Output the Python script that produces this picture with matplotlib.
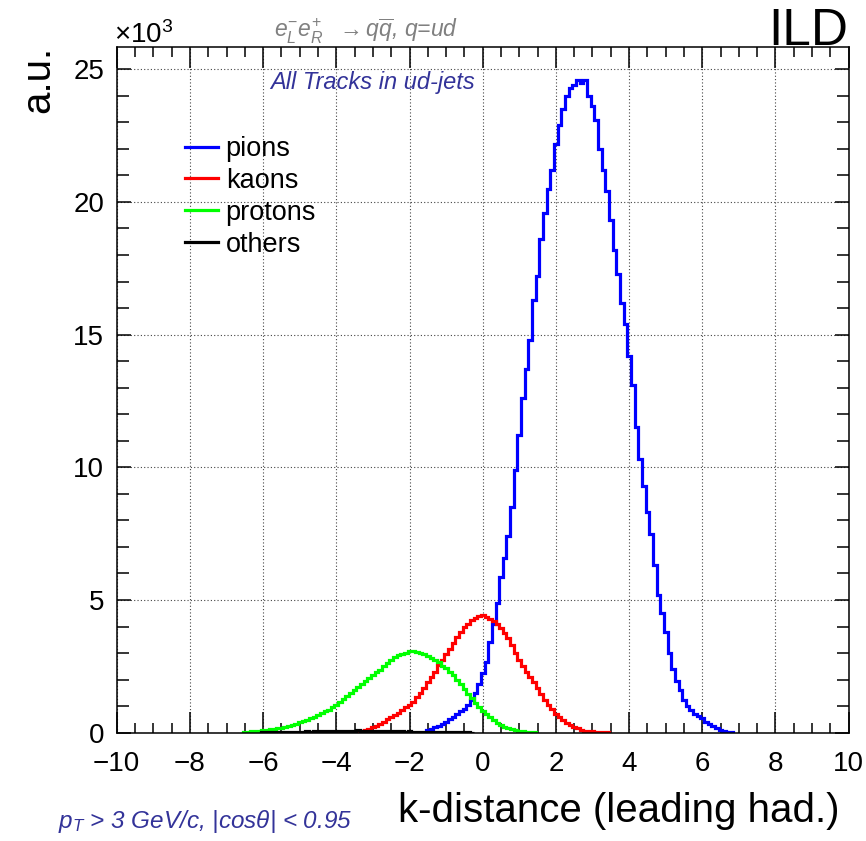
import numpy as np
import matplotlib
matplotlib.use("Agg")
import matplotlib.pyplot as plt
from matplotlib.ticker import MultipleLocator

plt.rcParams["font.family"] = ["Liberation Sans", "DejaVu Sans"]
plt.rcParams["mathtext.fontset"] = "custom"
plt.rcParams["mathtext.rm"] = "Liberation Sans"
plt.rcParams["mathtext.it"] = "Liberation Sans:italic"

# Bin width of the histograms (k-distance units)
bin_width = 0.1

# Counts per bin (x10^3); the first value belongs to the bin centred at *_start
pion_start = -1.5
pions = [0.10, 0.15, 0.20, 0.27, 0.33, 0.42, 0.52, 0.60, 0.70, 0.80,
         0.90, 1.05, 1.25, 1.50, 1.85, 2.25, 2.65, 3.40, 4.10, 4.90,
         5.85, 6.60, 7.40, 8.50, 9.90, 11.2, 12.6, 13.7, 14.8, 16.3,
         17.2, 18.6, 19.6, 20.5, 21.2, 22.2, 22.9, 23.5, 24.0, 24.3,
         24.4, 24.6, 24.5, 24.6, 24.0, 23.6, 23.1, 22.0, 21.2, 20.4,
         19.3, 18.2, 17.3, 16.2, 15.4, 14.2, 13.1, 11.5, 10.3, 9.30,
         8.30, 7.50, 6.30, 5.20, 4.50, 3.80, 3.00, 2.40, 1.95, 1.60,
         1.25, 1.00, 0.85, 0.72, 0.62, 0.55, 0.42, 0.32, 0.24, 0.16,
         0.10, 0.06, 0.03, 0.01]

kaon_start = -3.5
kaons = [0.02, 0.04, 0.07, 0.10, 0.14, 0.20, 0.27, 0.34, 0.42, 0.50,
         0.58, 0.67, 0.75, 0.85, 0.95, 1.05, 1.17, 1.33, 1.50, 1.70,
         1.90, 2.10, 2.30, 2.55, 2.75, 2.95, 3.15, 3.37, 3.60, 3.80,
         3.97, 4.10, 4.25, 4.33, 4.38, 4.42, 4.35, 4.28, 4.22, 4.10,
         3.95, 3.75, 3.55, 3.30, 3.00, 2.72, 2.50, 2.28, 2.08, 1.90,
         1.68, 1.45, 1.25, 1.05, 0.88, 0.72, 0.58, 0.46, 0.37, 0.29,
         0.22, 0.16, 0.11, 0.08, 0.06, 0.05, 0.03, 0.02, 0.01, 0.01]

proton_start = -6.5
protons = [0.02, 0.04, 0.05, 0.06, 0.08, 0.09, 0.10, 0.12, 0.14, 0.16,
           0.19, 0.22, 0.26, 0.30, 0.34, 0.39, 0.44, 0.49, 0.54, 0.60,
           0.66, 0.73, 0.80, 0.87, 0.95, 1.04, 1.14, 1.26, 1.38, 1.50,
           1.61, 1.72, 1.83, 1.94, 2.06, 2.17, 2.28, 2.38, 2.50, 2.62,
           2.72, 2.86, 2.93, 2.98, 3.02, 3.06, 3.08, 3.05, 3.01, 2.96,
           2.90, 2.83, 2.73, 2.65, 2.53, 2.42, 2.30, 2.17, 2.00, 1.82,
           1.65, 1.47, 1.30, 1.13, 0.97, 0.83, 0.70, 0.60, 0.48, 0.37,
           0.28, 0.21, 0.16, 0.12, 0.09, 0.07, 0.05, 0.04, 0.03, 0.02]

other_start = -6.0
others = [0.01, 0.01, 0.02, 0.01, 0.02, 0.02, 0.03, 0.02, 0.03, 0.04,
          0.03, 0.04, 0.05, 0.04, 0.05, 0.06, 0.05, 0.06, 0.07, 0.06,
          0.07, 0.08, 0.07, 0.08, 0.07, 0.08, 0.09, 0.08, 0.07, 0.08,
          0.07, 0.08, 0.07, 0.06, 0.07, 0.06, 0.05, 0.06, 0.05, 0.04,
          0.05, 0.04, 0.03, 0.04, 0.03, 0.02, 0.03, 0.02, 0.02, 0.01,
          0.02, 0.01, 0.01, 0.01, 0.01, 0.00, 0.01, 0.00]

series = [
    ("pions", pion_start, pions, "#0000ff"),
    ("kaons", kaon_start, kaons, "#ff0000"),
    ("protons", proton_start, protons, "#00ff00"),
    ("others", other_start, others, "#000000"),
]

x_ticks = [-10, -8, -6, -4, -2, 0, 2, 4, 6, 8, 10]
y_ticks = [0, 5, 10, 15, 20, 25]
navy = "#333399"

fig = plt.figure(figsize=(8.66, 8.41), dpi=100)
ax = fig.add_axes([0.1348, 0.1288, 0.98 - 0.1348, 0.9445 - 0.1288])

for label, start, vals, color in series:
    edges = start - bin_width / 2 + bin_width * np.arange(len(vals) + 1)
    ax.stairs(vals, edges, baseline=0, color=color, lw=2.3, label=label)

ax.set_xlim(-10, 10)
ax.set_ylim(0, 25.85)
ax.set_xticks(x_ticks)
ax.set_yticks(y_ticks)
ax.xaxis.set_minor_locator(MultipleLocator(0.5))
ax.yaxis.set_minor_locator(MultipleLocator(1))
ax.tick_params(which="both", direction="in", top=True, right=True, width=1.1, labelsize=20)
ax.tick_params(axis="x", which="major", length=15, pad=13)
ax.tick_params(axis="x", which="minor", length=7.5)
ax.tick_params(axis="y", which="major", length=10, pad=9)
ax.tick_params(axis="y", which="minor", length=8.5)
for sp in ax.spines.values():
    sp.set_linewidth(1.1)
ax.grid(True, which="major", color="#444444", linestyle=(0, (1, 2)), lw=0.8)
ax.set_axisbelow(True)

fig.text(840 / 866, 1 - 822 / 841, "k-distance (leading had.)", fontsize=29, ha="right", va="baseline")
fig.text(0.022, 0.946, "a.u.", fontsize=29, rotation=90, ha="left", va="top")
fig.text(114 / 866, 1 - 43 / 841, r"$\times$10$^{3}$", fontsize=20, ha="left", va="baseline")

fig.text(366 / 866, 1 - 38 / 841, r"$e^{-}_{L}e^{+}_{R}$  $\rightarrow q\overline{q}$, q=ud",
         fontsize=16.5, color="#808080", style="italic", ha="center", va="baseline")
fig.text(1 - 18 / 866, 1 - 45 / 841, "ILD", fontsize=37, ha="right", va="baseline")
fig.text(373 / 866, 1 - 89 / 841, "All Tracks in ud-jets", fontsize=17, color=navy,
         style="italic", ha="center", va="baseline")
fig.text(58 / 866, 1 - 828 / 841, r"$p_{T}$ > 3 GeV/c, |cos$\theta$| < 0.95", fontsize=17.5,
         color=navy, style="italic", ha="left", va="baseline")

ax.legend(loc="upper left", bbox_to_anchor=(185 / 866, 1 - 136 / 841),
          bbox_transform=fig.transFigure, frameon=False, fontsize=19.5,
          handlelength=1.2, handletextpad=0.3, labelspacing=0.22,
          borderpad=0, borderaxespad=0)

fig.savefig("out.png", dpi=100)
